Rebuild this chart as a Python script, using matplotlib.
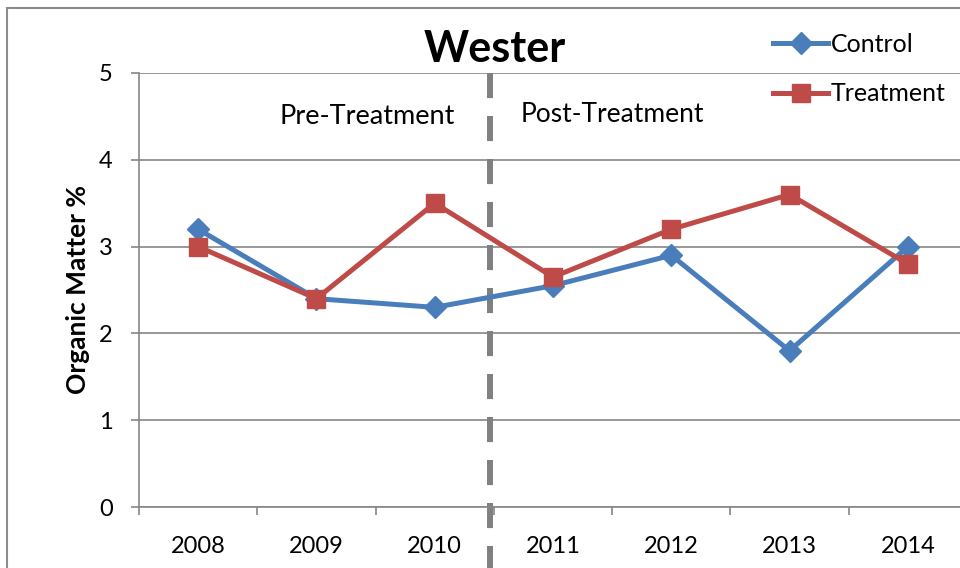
import matplotlib.pyplot as plt
from matplotlib.patches import Rectangle

years = ["2008", "2009", "2010", "2011", "2012", "2013", "2014"]
control = [3.2, 2.4, 2.3, 2.55, 2.9, 1.8, 3.0]
treatment = [3.0, 2.4, 3.5, 2.65, 3.2, 3.6, 2.8]
y_ticks = [0, 1, 2, 3, 4, 5]
split_at = 2.47

blue = "#4a7ebb"
red = "#be4b48"
grey = "#868686"

plt.rcParams['font.family'] = ['Lato', 'DejaVu Sans']

fig = plt.figure(figsize=(9.6, 5.68), dpi=100)
fig.patches.append(Rectangle((7 / 960, -0.1), 1.2, 1 - 8 / 568 + 0.1,
                             transform=fig.transFigure, fill=False,
                             edgecolor="#8c8c8c", linewidth=1.5))

ax = fig.add_axes([139 / 960, 61 / 568, 828 / 960, 434 / 568])
x = list(range(len(years)))

ax.plot(x, control, color=blue, lw=3.6, marker="D", markersize=11,
        label="Control", zorder=3)
ax.plot(x, treatment, color=red, lw=3.6, marker="s", markersize=13,
        label="Treatment", zorder=4)

ax.set_xlim(-0.5, len(years) - 0.5)
ax.set_ylim(0, 5)
ax.set_yticks(y_ticks)
ax.set_yticklabels([str(v) for v in y_ticks])
ax.yaxis.grid(True, color=grey, lw=1.2)
ax.set_axisbelow(True)

ax.set_xticks([i - 0.5 for i in range(len(years) + 1)])
ax.set_xticklabels([])
ax.set_xticks(x, minor=True)
ax.set_xticklabels(years, minor=True)
ax.tick_params(axis="x", which="major", length=6, color=grey, width=1.2)
ax.tick_params(axis="x", which="minor", length=0, pad=21, labelsize=17)
ax.tick_params(axis="y", length=6, color=grey, width=1.2, pad=13, labelsize=17)

for side in ["top", "right"]:
    ax.spines[side].set_visible(False)
for side in ["left", "bottom"]:
    ax.spines[side].set_color(grey)
    ax.spines[side].set_linewidth(1.2)

ax.plot([split_at, split_at], [5, -0.75], color="#808080", lw=4.3,
        dashes=[4.2, 3.0], clip_on=False, zorder=2)

ax.text(1.43, 4.5, "Pre-Treatment", ha="center", va="center", fontsize=19.5)
ax.text(3.5, 4.52, "Post-Treatment", ha="center", va="center", fontsize=19)

fig.text(495 / 960, 1 - 49 / 568, "Wester", ha="center", va="center",
         fontsize=31, fontweight="bold")
fig.text(78 / 960, 1 - 290 / 568, "Organic Matter %", ha="center",
         va="center", rotation=90, fontsize=19, fontweight="bold")

ax.legend(loc="upper left", bbox_to_anchor=(763 / 960, 1 - 23 / 568),
          bbox_transform=fig.transFigure, frameon=False, fontsize=18,
          handlelength=2.2, handletextpad=0.1, labelspacing=1.05,
          borderaxespad=0)

fig.savefig("out.png", dpi=100)
